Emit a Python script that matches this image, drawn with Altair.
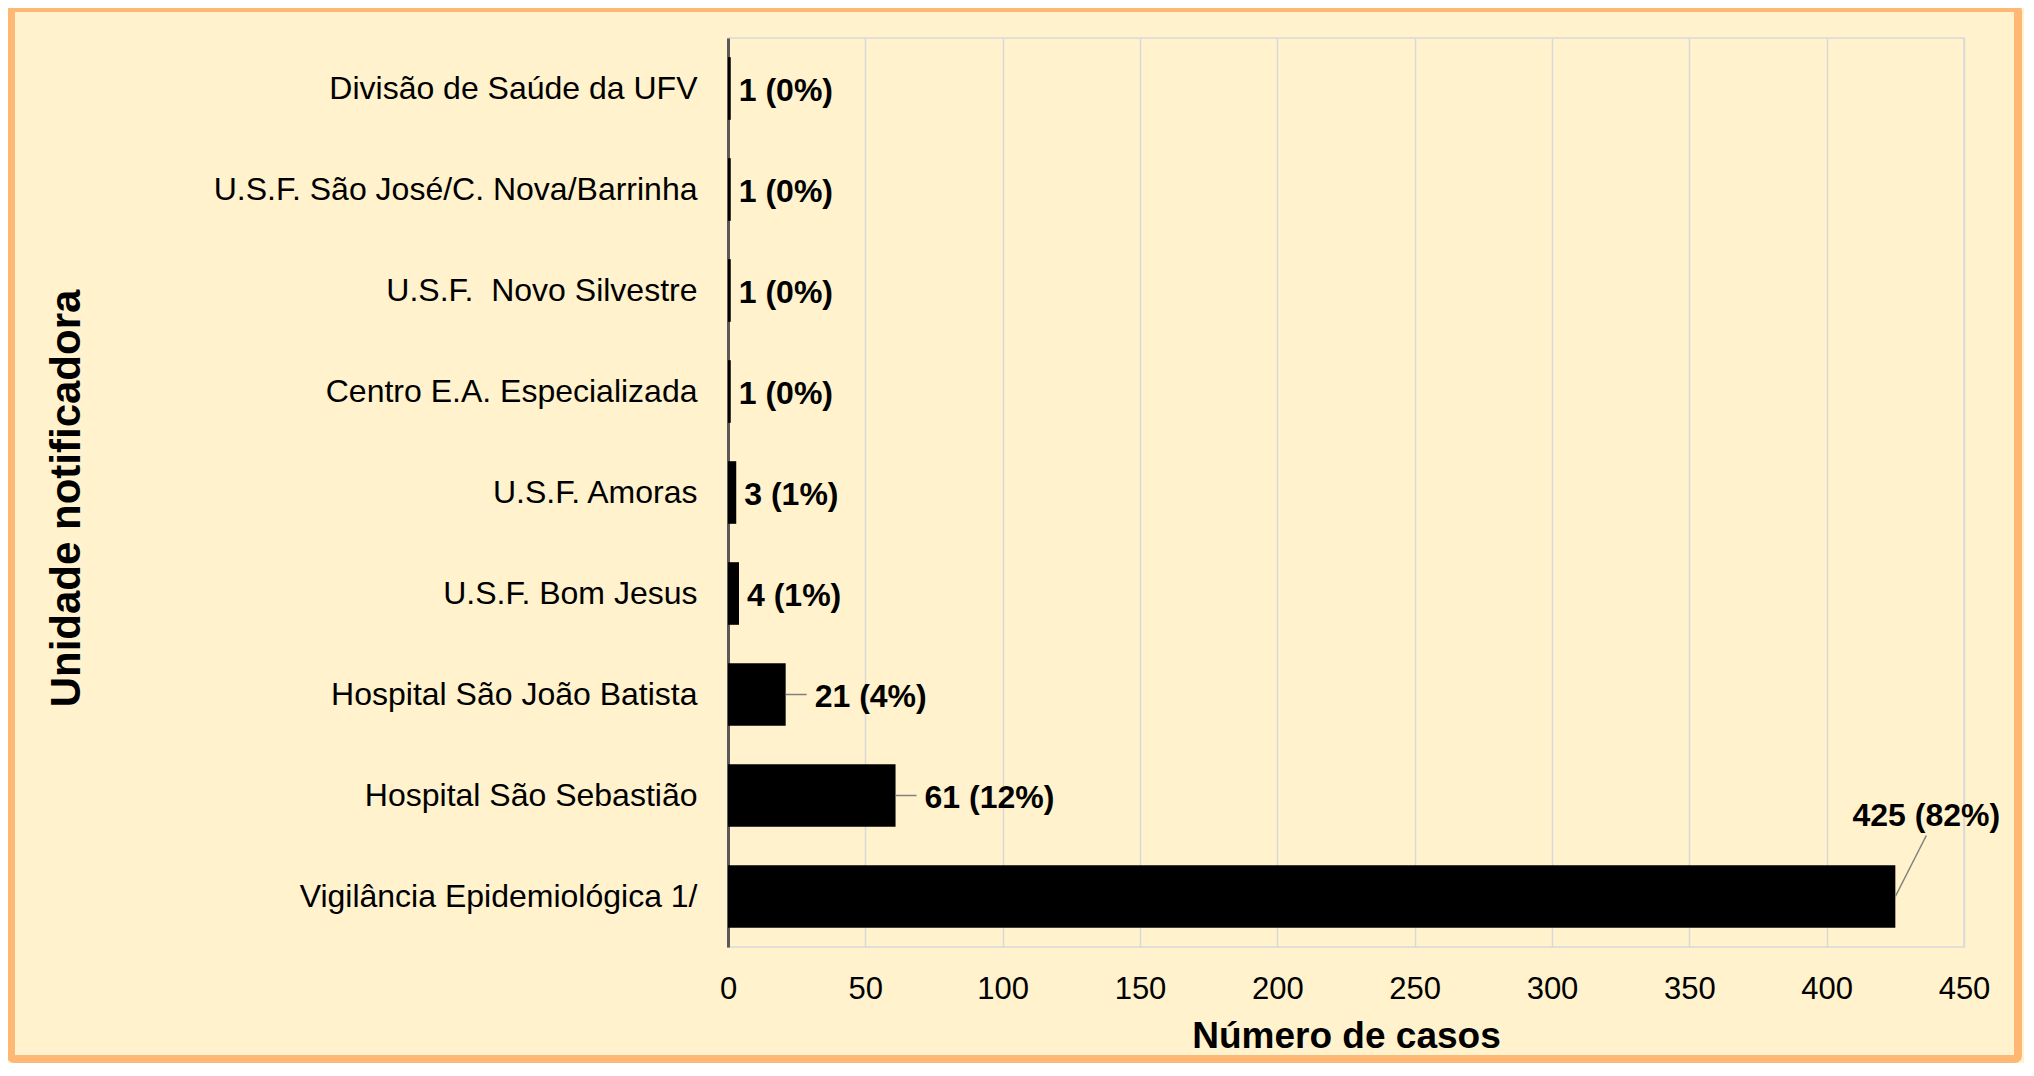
import altair as alt
import pandas as pd

# ---- data ----
categories = [
    "Divisão de Saúde da UFV",
    "U.S.F. São José/C. Nova/Barrinha",
    "U.S.F.\u00a0 Novo Silvestre",
    "Centro E.A. Especializada",
    "U.S.F. Amoras",
    "U.S.F. Bom Jesus",
    "Hospital São João Batista",
    "Hospital São Sebastião",
    "Vigilância Epidemiológica 1/",
]
cases = [1, 1, 1, 1, 3, 4, 21, 61, 425]
percents = [0, 0, 0, 0, 1, 1, 4, 12, 82]
x_ticks = [0, 50, 100, 150, 200, 250, 300, 350, 400, 450]

df = pd.DataFrame({"unidade": categories, "casos": cases, "pct": percents})
df["rotulo"] = [f"{c} ({p}%)" for c, p in zip(cases, percents)]

FONT = "Liberation Sans"
W, H = 1236, 909
BG = "#FFF2CC"
FRAME = "#FFB874"
GRID = "#D9D9D9"

x_enc = alt.X(
    "casos:Q",
    scale=alt.Scale(domain=[0, 450], nice=False),
    axis=alt.Axis(
        values=x_ticks,
        title="Número de casos",
        titleFont=FONT, titleFontSize=37, titleFontWeight="bold", titleColor="black",
        titleX=618, titleY=100, titleBaseline="alphabetic", titleAlign="center",
        labelFont=FONT, labelFontSize=31, labelColor="black",
        labelPadding=51, labelBaseline="alphabetic", labelFlush=False,
        ticks=False, tickSize=0, domain=False,
        grid=True, gridColor=GRID, gridWidth=1.5,
    ),
)
y_enc = alt.Y(
    "unidade:N",
    sort=categories,
    scale=alt.Scale(paddingInner=0.38, paddingOuter=0.19),
    axis=alt.Axis(
        title="Unidade notificadora",
        titleFont=FONT, titleFontSize=42, titleFontWeight="bold", titleColor="black",
        titleX=-649, titleY=460, titleAngle=270, titleBaseline="alphabetic", titleAlign="center",
        labelFont=FONT, labelFontSize=32, labelColor="black",
        labelPadding=31, labelLimit=700,
        ticks=False, tickSize=0,
        domain=True, domainColor="#595959", domainWidth=3,
        grid=False,
    ),
)

base = alt.Chart(df)

bars = base.mark_bar(color="black").encode(x=x_enc, y=y_enc)

txt = dict(font=FONT, fontSize=32, fontWeight="bold", color="black")

small = base.transform_filter("datum.casos < 10").mark_text(
    align="left", baseline="middle", dx=8, dy=2, **txt
).encode(x=x_enc, y=y_enc, text="rotulo:N")

mid_rule = base.transform_filter("datum.casos >= 10 && datum.casos < 100").mark_rule(
    color="#808080", strokeWidth=1.5, x2Offset=21
).encode(x=x_enc, x2="casos:Q", y=y_enc)

mid_text = base.transform_filter("datum.casos >= 10 && datum.casos < 100").mark_text(
    align="left", baseline="middle", dx=29, dy=2, **txt
).encode(x=x_enc, y=y_enc, text="rotulo:N")

big_rule = base.transform_filter("datum.casos >= 100").mark_rule(
    color="#808080", strokeWidth=1.5, x2Offset=31, y2Offset=-61
).encode(x=x_enc, x2="casos:Q", y=y_enc, y2=alt.Y2(field="unidade"))

big_text = base.transform_filter("datum.casos >= 100").mark_text(
    align="center", baseline="alphabetic", dx=31, dy=-71, **txt
).encode(x=x_enc, y=y_enc, text="rotulo:N")

frame = alt.Chart(alt.Data(values=[{"k": 1}])).mark_rect(
    fillOpacity=0, stroke=FRAME, strokeWidth=8, cornerRadius=3
).encode(
    x=alt.value(-717), x2=alt.value(1290), y=alt.value(-30), y2=alt.value(1021)
)

chart = (
    alt.layer(frame, bars, small, mid_rule, mid_text, big_rule, big_text)
    .properties(
        width=W,
        height=H,
        autosize=alt.AutoSizeParams(type="none"),
        padding={"left": 720, "top": 30, "right": 60, "bottom": 116},
        background=BG,
    )
    .configure_view(stroke=GRID, strokeWidth=1.5)
)

chart.save("out.html", embed_options={"renderer": "svg", "actions": False})
